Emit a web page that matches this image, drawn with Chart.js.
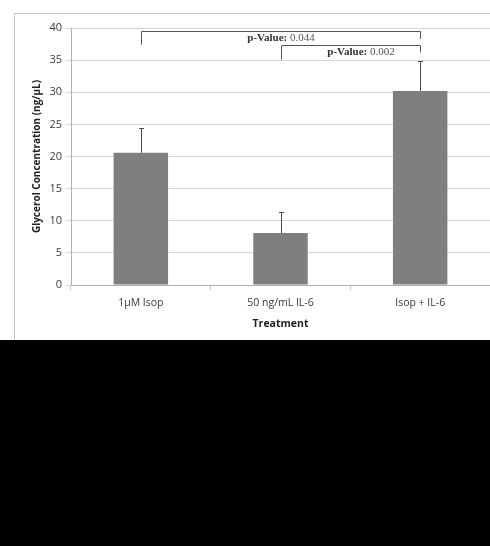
<!DOCTYPE html>
<html>
<head>
<meta charset="utf-8">
<script src="https://cdn.jsdelivr.net/npm/chart.js@4.4.0/dist/chart.umd.min.js"></script>
<style>
  html, body { margin: 0; padding: 0; background: #000; }
  #wrap { position: relative; width: 490px; height: 340px; background: #fff; overflow: hidden; }
  #frame { position: absolute; left: 14px; top: 13px; width: 500px; height: 340px; border-left: 1px solid #c8c8c8; border-top: 1px solid #c8c8c8; }
  canvas { position: absolute; left: 0; top: 0; }
</style>
</head>
<body>
<div id="wrap">
  <div id="frame"></div>
  <canvas id="chart" width="490" height="340"></canvas>
</div>
<script>
// data
const categories = ['1µM Isop', '50 ng/mL IL-6', 'Isop + IL-6'];
const glycerol = [20.6, 8.1, 30.2];
const errorUp = [3.8, 3.2, 4.6];

// significance brackets: [from, to], bar level, left/right drop, label
const bracketPairs = [[0, 2], [1, 2]];
const bracketLevels = [39.6, 37.3];
const bracketDrops = [[37.4, 38.3], [35.1, 36.2]];
const pValues = ['0.044', '0.002'];

const errorBars = {
    id: 'errorBars',
    afterDatasetsDraw(chart) {
        const ctx = chart.ctx;
        const x = chart.scales.x, y = chart.scales.y;
        ctx.save();
        ctx.strokeStyle = '#4a4a4a';
        ctx.lineWidth = 1;
        glycerol.forEach((v, i) => {
            const px = Math.round(x.getPixelForValue(i)) + 0.5;
            const top = y.getPixelForValue(v + errorUp[i]);
            ctx.beginPath();
            ctx.moveTo(px, y.getPixelForValue(v));
            ctx.lineTo(px, top);
            ctx.moveTo(px - 2.5, Math.round(top) + 0.5);
            ctx.lineTo(px + 2.5, Math.round(top) + 0.5);
            ctx.stroke();
        });

        // brackets
        ctx.strokeStyle = '#555';
        bracketPairs.forEach((pair, i) => {
            const x1 = Math.round(x.getPixelForValue(pair[0])) + 0.5;
            const x2 = Math.round(x.getPixelForValue(pair[1])) + 0.5;
            const yl = Math.round(y.getPixelForValue(bracketLevels[i])) + 0.5;
            ctx.beginPath();
            ctx.moveTo(x1, y.getPixelForValue(bracketDrops[i][0]));
            ctx.lineTo(x1, yl);
            ctx.lineTo(x2, yl);
            ctx.lineTo(x2, y.getPixelForValue(bracketDrops[i][1]));
            ctx.stroke();

            // label under the bracket bar
            const bold = 'bold 11px "Liberation Serif", serif';
            const reg = '11px "Liberation Serif", serif';
            ctx.font = bold;
            const a = 'p-Value:';
            const wa = ctx.measureText(a).width;
            ctx.font = reg;
            const b = ' ' + pValues[i];
            const wb = ctx.measureText(b).width;
            const cx = i === 0 ? (x1 + x2) / 2 : (x1 + x2) / 2 + 10;
            const sx = cx - (wa + wb) / 2;
            ctx.textBaseline = 'middle';
            ctx.fillStyle = '#333';
            ctx.font = bold;
            ctx.fillText(a, sx, yl + 7);
            ctx.font = reg;
            ctx.fillStyle = '#555';
            ctx.fillText(b, sx + wa, yl + 7);
        });
        ctx.restore();
    }
};

new Chart(document.getElementById('chart'), {
    type: 'bar',
    data: {
        labels: categories,
        datasets: [{
            data: glycerol,
            backgroundColor: '#7f7f7f',
            borderWidth: 0,
            barPercentage: 0.78,
            categoryPercentage: 0.5
        }]
    },
    options: {
        responsive: false,
        animation: false,
        layout: { padding: { left: 27, top: 28, right: 0, bottom: 6 } },
        plugins: { legend: { display: false }, tooltip: { enabled: false } },
        scales: {
            x: {
                grid: { offset: true, drawOnChartArea: false, color: '#c8c8c8', tickLength: 5 },
                border: { color: '#b0b0b0' },
                ticks: { color: '#3a3a3a', font: { family: '"Open Sans", sans-serif', size: 10.5 }, padding: 7 },
                title: { display: true, text: 'Treatment', color: '#222', font: { family: '"Open Sans", sans-serif', size: 10.5, weight: 'bold' }, padding: { top: 1 } },
                afterFit(scale) { scale.height = 49; }
            },
            y: {
                min: 0, max: 40,
                ticks: { stepSize: 5, color: '#3a3a3a', font: { family: '"Open Sans", sans-serif', size: 11 }, padding: 4 },
                grid: { color: '#d4d4d4', tickLength: 5 },
                border: { color: '#b0b0b0' },
                title: { display: true, text: 'Glycerol Concentration (ng/µL)', color: '#222', font: { family: '"Open Sans", sans-serif', size: 10, weight: 'bold' }, padding: { bottom: 2 } },
                afterFit(scale) { scale.width = 44; }
            }
        }
    },
    plugins: [errorBars]
});
</script>
</body>
</html>
